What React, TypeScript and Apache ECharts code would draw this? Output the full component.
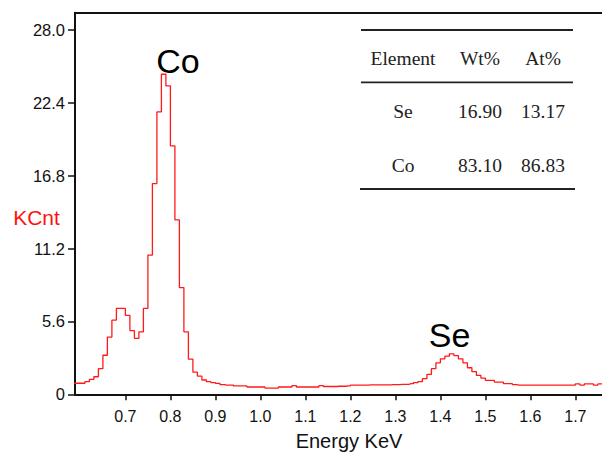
import React, { useEffect, useRef } from "react";
import * as echarts from "echarts";

// Spectrum: channel counts (KCnt), channels of 0.01 keV starting at 0.585 keV (centre)
const CHANNEL_START = 0.585;
const CHANNEL_WIDTH = 0.01;
const counts: number[] = [
  0.85, 0.85, 0.85, 0.97, 1.15, 1.35, 1.97, 3.0, 4.4, 5.7,
  6.6, 6.6, 6.07, 4.9, 4.3, 4.8, 6.6, 10.7, 16.2, 21.7,
  24.6, 23.7, 19.1, 13.4, 8.2, 4.8, 2.7, 1.7, 1.4, 1.1,
  0.97, 0.9, 0.84, 0.75, 0.71, 0.71, 0.64, 0.64, 0.64, 0.56,
  0.56, 0.56, 0.56, 0.48, 0.48, 0.48, 0.56, 0.56, 0.56, 0.66,
  0.56, 0.56, 0.56, 0.56, 0.56, 0.66, 0.6, 0.6, 0.6, 0.62,
  0.62, 0.64, 0.7, 0.7, 0.7, 0.7, 0.72, 0.72, 0.72, 0.72,
  0.72, 0.74, 0.74, 0.76, 0.77, 0.82, 0.9, 0.97, 1.2, 1.53,
  1.97, 2.42, 2.73, 2.93, 3.11, 2.98, 2.73, 2.42, 2.04, 1.74,
  1.45, 1.25, 1.07, 1.07, 0.94, 0.94, 0.82, 0.82, 0.74, 0.71,
  0.71, 0.71, 0.71, 0.71, 0.71, 0.71, 0.71, 0.71, 0.71, 0.71,
  0.71, 0.71, 0.8, 0.71, 0.8, 0.8, 0.71, 0.8, 0.8,
];

const xTicks = [0.7, 0.8, 0.9, 1.0, 1.1, 1.2, 1.3, 1.4, 1.5, 1.6, 1.7];
const yTicks = [0, 5.6, 11.2, 16.8, 22.4, 28.0];

const tableHeader = ["Element", "Wt%", "At%"];
const tableElements = ["Se", "Co"];
const tableWt = ["16.90", "83.10"];
const tableAt = ["13.17", "86.83"];

const peakLabels = ["Co", "Se"];

const SANS = '"Liberation Sans", Arial, sans-serif';
const SERIF = '"Liberation Serif", "Times New Roman", serif';

export default function App() {
  const ref = useRef<HTMLDivElement>(null);

  useEffect(() => {
    if (!ref.current) return;
    const chart = echarts.init(ref.current, undefined, { renderer: "svg" });

    const data = counts.map((v, i) => [
      +(CHANNEL_START + i * CHANNEL_WIDTH).toFixed(3),
      v,
    ]);

    const xMin = 0.588;
    const xMax = 0.588 + 527 / 450;

    const tableText = (text: string, x: number, y: number) => ({
      type: "text",
      x,
      y,
      style: {
        text,
        fill: "#222",
        font: `19.5px ${SERIF}`,
        align: "center",
        verticalAlign: "middle",
        textAlign: "center",
        textVerticalAlign: "middle",
      },
    });

    const colX = [403, 480, 543];
    const rowY = [111.7, 165];

    const graphic: any[] = [
      { type: "line", shape: { x1: 361, y1: 30, x2: 573, y2: 30 }, style: { stroke: "#222", lineWidth: 1.8 } },
      { type: "line", shape: { x1: 361, y1: 82.3, x2: 573, y2: 82.3 }, style: { stroke: "#222", lineWidth: 1.8 } },
      { type: "line", shape: { x1: 360, y1: 189, x2: 575, y2: 189 }, style: { stroke: "#222", lineWidth: 1.8 } },
      ...tableHeader.map((t, i) => tableText(t, colX[i], 58.3)),
      ...tableElements.map((t, r) => tableText(t, colX[0], rowY[r])),
      ...tableWt.map((t, r) => tableText(t, colX[1], rowY[r])),
      ...tableAt.map((t, r) => tableText(t, colX[2], rowY[r])),
      {
        type: "text",
        x: 178,
        y: 61,
        style: { text: peakLabels[0], fill: "#000", font: `34px ${SANS}`, align: "center", verticalAlign: "middle", textAlign: "center", textVerticalAlign: "middle" },
      },
      {
        type: "text",
        x: 449.5,
        y: 335,
        style: { text: peakLabels[1], fill: "#000", font: `34px ${SANS}`, align: "center", verticalAlign: "middle", textAlign: "center", textVerticalAlign: "middle" },
      },
      {
        type: "text",
        x: 36.5,
        y: 217.5,
        style: { text: "KCnt", fill: "#ff1010", font: `21px ${SANS}`, align: "center", verticalAlign: "middle", textAlign: "center", textVerticalAlign: "middle" },
      },
      {
        type: "text",
        x: 349,
        y: 441,
        style: { text: "Energy KeV", fill: "#111", font: `20px ${SANS}`, align: "center", verticalAlign: "middle", textAlign: "center", textVerticalAlign: "middle" },
      },
    ];

    chart.setOption({
      animation: false,
      backgroundColor: "#fff",
      grid: { left: 75, right: 0, top: 12.7, bottom: 59.7 },
      xAxis: [
        {
          type: "value",
          min: xMin,
          max: xMax,
          axisLine: { show: true, onZero: false, lineStyle: { color: "#111", width: 2 } },
          axisTick: { show: true, length: 6, inside: false, customValues: xTicks, lineStyle: { color: "#111", width: 1.5 } },
          axisLabel: {
            show: true,
            customValues: xTicks,
            margin: 14,
            color: "#111",
            fontSize: 16,
            fontFamily: SANS,
            formatter: (v: number) => v.toFixed(1),
          },
          splitLine: { show: false },
        },
        {
          type: "value",
          position: "top",
          min: xMin,
          max: xMax,
          axisLine: { show: true, onZero: false, lineStyle: { color: "#111", width: 2 } },
          axisTick: { show: false },
          axisLabel: { show: false },
          splitLine: { show: false },
        },
      ],
      yAxis: {
        type: "value",
        min: 0,
        max: 29.33,
        axisLine: { show: true, onZero: false, lineStyle: { color: "#111", width: 2 } },
        axisTick: { show: true, length: 7, customValues: yTicks, lineStyle: { color: "#111", width: 1.5 } },
        axisLabel: {
          show: true,
          customValues: yTicks,
          margin: 10,
          color: "#111",
          fontSize: 16.5,
          fontFamily: SANS,
          formatter: (v: number) => (v === 0 ? "0" : v.toFixed(1)),
        },
        splitLine: { show: false },
      },
      series: [
        {
          type: "line",
          xAxisIndex: 0,
          step: "middle",
          data,
          symbol: "none",
          clip: true,
          lineStyle: { color: "#ff1a1a", width: 1.3 },
        },
      ],
      graphic,
    });

    return () => chart.dispose();
  }, []);

  return (
    <div
      ref={ref}
      style={{ position: "fixed", left: 0, top: 0, width: 602, height: 454, background: "#fff" }}
    />
  );
}
